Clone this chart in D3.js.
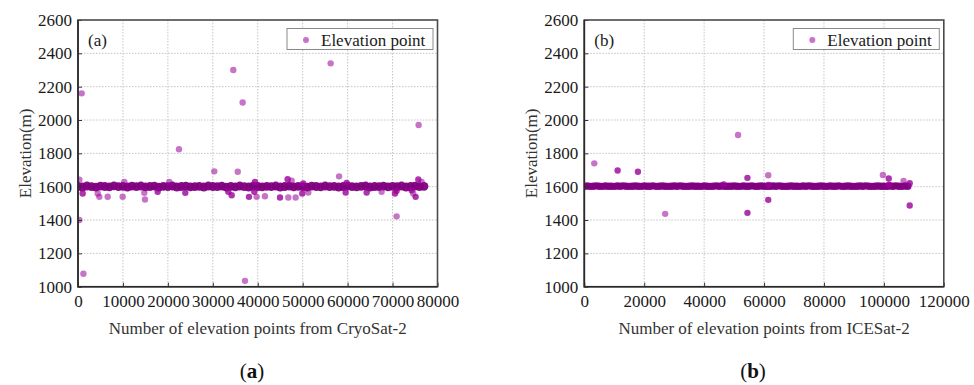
<!DOCTYPE html>
<html><head><meta charset="utf-8">
<script src="https://cdn.jsdelivr.net/npm/d3@7"></script>
<style>
body{margin:0;background:#fff;}
svg{display:block;}
svg text{font-family:"Liberation Serif",serif !important;}
</style>
</head><body>
<svg id="c" width="974" height="385"></svg>
<script>
// ---------- data ----------
const yTicks = [1000, 1200, 1400, 1600, 1800, 2000, 2200, 2400, 2600];
const xTicksA = [0, 10000, 20000, 30000, 40000, 50000, 60000, 70000, 80000];
const xTicksB = [0, 20000, 40000, 60000, 80000, 100000, 120000];

// dense band of elevation points, sampled every bandStep points
const bandStepA = 1000;
const bandA = [1602,1598,1604,1600,1597,1603,1601,1599,1605,1600,1602,1598,1603,1600,1604,1599,1601,1603,1597,1602,
  1600,1604,1598,1601,1603,1599,1600,1602,1598,1604,1601,1600,1603,1597,1602,1599,1604,1600,1598,1603,
  1601,1599,1602,1600,1604,1598,1601,1603,1599,1602,1600,1597,1603,1601,1599,1604,1600,1602,1598,1601,
  1603,1600,1599,1602,1604,1598,1601,1600,1603,1599,1602,1600,1604,1598,1601,1603,1600,1602];
const bandStepB = 1000;
const bandB = [1603,1604,1602,1603,1605,1603,1602,1604,1603,1603,1602,1604,1603,1605,1603,1602,1603,1604,1603,1602,
  1604,1603,1603,1605,1602,1603,1604,1603,1602,1603,1604,1603,1605,1603,1602,1603,1604,1603,1603,1602,
  1604,1603,1602,1603,1605,1603,1604,1602,1603,1603,1604,1603,1602,1604,1603,1603,1605,1602,1603,1604,
  1603,1602,1603,1604,1603,1605,1603,1602,1603,1604,1603,1603,1602,1604,1603,1605,1603,1602,1603,1604,
  1603,1602,1604,1603,1603,1605,1602,1603,1604,1603,1602,1603,1604,1603,1605,1603,1602,1603,1604,1603,
  1603,1602,1604,1603,1605,1603,1602,1604,1603];

// isolated points: [point number, elevation, overlapping count]
const outliersA = [
  [820,2160,1],[34560,2300,1],[36640,2105,1],[56220,2340,1],[75800,1970,1],
  [22470,1825,1],[30330,1692,1],[35550,1690,1],[58100,1662,1],
  [290,1400,1],[1200,1078,1],[37160,1035,1],[70900,1422,1],
  [300,1642,1],[1040,1559,2],[4380,1559,1],[4750,1539,1],[6600,1540,1],[9940,1540,1],[10300,1629,1],
  [14750,1563,1],[14900,1523,1],[17730,1569,2],[20310,1629,1],[23880,1563,2],
  [33450,1569,2],[34200,1549,2],[38050,1539,2],[39230,1569,2],[39750,1539,1],[41600,1543,1],
  [39380,1629,2],[44950,1535,2],[46800,1535,1],[48430,1535,1],[46650,1645,2],[47550,1636,1],
  [49900,1559,2],[50130,1619,2],[51250,1565,1],
  [59780,1623,2],[59560,1565,2],[64230,1565,2],[67560,1569,1],[70530,1559,2],[70900,1575,2],
  [74600,1559,1],[75130,1539,2],[75730,1643,2],[76460,1629,1],[74250,1579,2]
];
const outliersB = [
  [51330,1910,1],[3330,1740,1],[11130,1697,2],[17900,1690,2],[27000,1437,1],[46570,1614,2],
  [54460,1653,2],[54460,1443,2],[61400,1669,1],[61400,1521,2],[61460,1610,2],
  [99670,1670,1],[101620,1649,2],[101670,1612,2],[106570,1634,1],[108620,1621,2],[108620,1487,2]
];

const panels = [
  {tag:"(a)", cap:"a", xTicks:xTicksA, band:bandA, step:bandStepA, out:outliersA,
   xTitle:"Number of elevation points from CryoSat-2", box:[78, 437.5, 20, 286.7], capX:252},
  {tag:"(b)", cap:"b", xTicks:xTicksB, band:bandB, step:bandStepB, out:outliersB,
   xTitle:"Number of  elevation points from ICESat-2", box:[584.3, 943.8, 20, 286.7], capX:753}
];

// ---------- drawing ----------
const FONT = "'Liberation Serif', serif";
const svg = d3.select("#c");
const base = "#990099", baseAlpha = 0.55;

panels.forEach((p, k) => {
  const [L, R, T, B] = p.box;
  const x = d3.scaleLinear().domain([p.xTicks[0], p.xTicks[p.xTicks.length-1]]).range([L, R]);
  const y = d3.scaleLinear().domain([yTicks[0], yTicks[yTicks.length-1]]).range([B, T]);
  const g = svg.append("g").style("font-family", FONT);

  // grid
  g.append("g").selectAll("line").data(p.xTicks.slice(1, -1)).join("line")
    .attr("x1", d => x(d)).attr("x2", d => x(d)).attr("y1", T).attr("y2", B)
    .attr("stroke", "#c4c4c4").attr("stroke-width", 1).attr("stroke-dasharray", "1.5,1.5");
  g.append("g").selectAll("line").data(yTicks.slice(1, -1)).join("line")
    .attr("y1", d => y(d)).attr("y2", d => y(d)).attr("x1", L).attr("x2", R)
    .attr("stroke", "#c4c4c4").attr("stroke-width", 1).attr("stroke-dasharray", "1.5,1.5");

  // clip
  const cid = "clip" + k;
  svg.append("clipPath").attr("id", cid).append("rect")
    .attr("x", L).attr("y", T).attr("width", R - L).attr("height", B - T);
  const pts = g.append("g").attr("clip-path", `url(#${cid})`);

  pts.selectAll("circle.band").data(p.band).join("circle").attr("class", "band")
    .attr("cx", (d, i) => x(i * p.step)).attr("cy", d => y(d)).attr("r", k === 0 ? 4.4 : 3.7)
    .attr("fill", "#800080").attr("fill-opacity", 0.95);
  pts.selectAll("circle.out").data(p.out).join("circle").attr("class", "out")
    .attr("cx", d => x(d[0])).attr("cy", d => y(d[1])).attr("r", 3.2)
    .attr("fill", base).attr("fill-opacity", d => 1 - Math.pow(1 - baseAlpha, d[2]));

  // axes
  const ax = d3.axisBottom(x).tickValues(p.xTicks).tickSize(-4).tickPadding(8).tickFormat(d3.format("d"));
  const gx = g.append("g").attr("transform", `translate(0,${B})`).call(ax);
  const ay = d3.axisLeft(y).tickValues(yTicks).tickSize(-4).tickPadding(6).tickFormat(d3.format("d"));
  const gy = g.append("g").attr("transform", `translate(${L},0)`).call(ay);
  [gx, gy].forEach(a => {
    a.attr("font-family", null).attr("font-size", null);
    a.select(".domain").remove();
    a.selectAll(".tick line").attr("stroke", "#333").attr("stroke-width", 1);
    a.selectAll(".tick text").style("font-family", FONT).style("font-size", "17px").attr("fill", "#1a1a1a");
  });
  gx.selectAll(".tick text").attr("dy", "0.71em");

  // frame
  g.append("rect").attr("x", L).attr("y", T).attr("width", R - L).attr("height", B - T)
    .attr("fill", "none").attr("stroke", "#4a4a4a").attr("stroke-width", 1.6);
  g.append("path").attr("d", `M${L},${T}V${B}H${R}`).attr("fill", "none")
    .attr("stroke", "#2a2a2a").attr("stroke-width", 1.6);

  const txt = sel => sel.style("font-family", FONT).style("font-size", "17px").attr("fill", "#1a1a1a");

  // panel tag
  g.append("text").attr("x", L + 10).attr("y", T + 26).call(txt).text(p.tag);

  // legend
  const lw = 146, lh = 21, lx = R - 4.5 - lw, ly = T + 8.5;
  g.append("rect").attr("x", lx).attr("y", ly).attr("width", lw).attr("height", lh)
    .attr("fill", "#fff").attr("stroke", "#8a8a8a").attr("stroke-width", 1);
  g.append("circle").attr("cx", lx + 19).attr("cy", ly + 11.5).attr("r", 3)
    .attr("fill", base).attr("fill-opacity", baseAlpha);
  g.append("text").attr("x", lx + 34).attr("y", ly + 17).call(txt).text("Elevation point");

  // axis titles
  g.append("text").attr("x", (L + R) / 2).attr("y", 334).attr("text-anchor", "middle")
    .call(txt).attr("fill", "#333").text(p.xTitle);
  g.append("text").attr("transform", `translate(${L - 47},${(T + B) / 2}) rotate(-90)`)
    .attr("text-anchor", "middle").call(txt).attr("fill", "#333").text("Elevation(m)");

  // caption
  const c = svg.append("text").attr("x", p.capX).attr("y", 378).attr("text-anchor", "middle")
    .style("font-family", FONT).style("font-size", "21px").attr("fill", "#111");
  c.append("tspan").text("(");
  c.append("tspan").attr("font-weight", "bold").text(p.cap);
  c.append("tspan").text(")");
});
</script>
</body></html>
